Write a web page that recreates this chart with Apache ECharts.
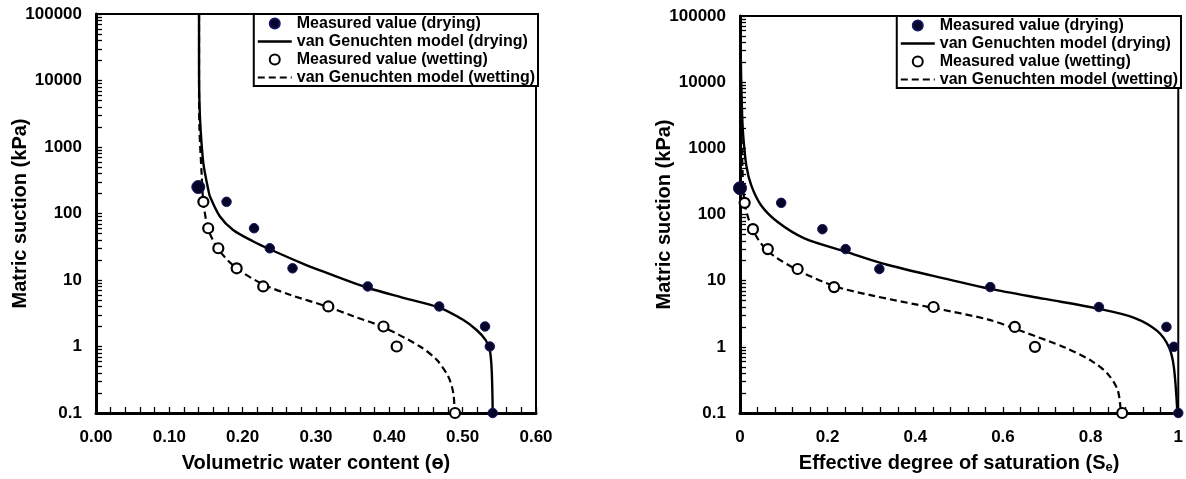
<!DOCTYPE html>
<html>
<head>
<meta charset="utf-8">
<script src="https://cdn.jsdelivr.net/npm/echarts@6/dist/echarts.min.js"></script>
<style>
html,body{margin:0;padding:0;background:#fff;}
#c{width:1186px;height:479px;}
</style>
</head>
<body>
<div id="c"></div>
<script>
// ---- measured data ----
const suctionDry = [250, 150, 60, 30, 15, 8, 4, 2, 1, 0.1];
const thetaDry   = [0.1395, 0.178, 0.2155, 0.237, 0.268, 0.3705, 0.468, 0.5305, 0.537, 0.541];
const seDry      = [0, 0.094, 0.188, 0.241, 0.318, 0.571, 0.819, 0.973, 0.990, 1.0];

const suctionWet = [150, 60, 30, 15, 8, 4, 2, 1, 0.1];
const thetaWet   = [0.1464, 0.153, 0.1668, 0.1918, 0.228, 0.3168, 0.392, 0.41, 0.4896];
const seWet      = [0.0106, 0.0295, 0.0635, 0.1315, 0.2147, 0.4415, 0.627, 0.673, 0.872];

// ---- model curves ----
const thetaDryModel   = [0.1405, 0.1405, 0.141, 0.1427, 0.1464, 0.1532, 0.1555, 0.169, 0.187, 0.2145, 0.237, 0.2827, 0.3055, 0.3705, 0.419, 0.468, 0.501, 0.519, 0.5314, 0.537, 0.5396, 0.541];
const suctionDryModel = [100000, 20000, 5000, 1800, 569, 225, 179, 90, 56.5, 38, 29, 17.5, 14, 7.65, 5.4, 3.84, 2.5, 1.77, 1.25, 0.885, 0.44, 0.1];

const thetaWetModel   = [0.1405, 0.1405, 0.141, 0.144, 0.1464, 0.153, 0.1668, 0.1918, 0.228, 0.2645, 0.3145, 0.351, 0.392, 0.4418, 0.4646, 0.4805, 0.4873, 0.489];
const suctionWetModel = [100000, 10000, 2000, 403, 151, 58.5, 29, 15, 8.6, 6.0, 4.0, 2.85, 1.95, 1.0, 0.63, 0.35, 0.198, 0.1];

const seDryModel      = [0.001, 0.002, 0.004, 0.0068, 0.0144, 0.0257, 0.048, 0.086, 0.147, 0.241, 0.336, 0.48, 0.571, 0.695, 0.8186, 0.8995, 0.952, 0.979, 0.990, 0.998];
const suctionDryModelR= [100000, 20000, 5000, 1740, 550, 275, 138, 77, 43.6, 27.5, 17.4, 10.3, 7.5, 5.3, 3.76, 2.75, 1.74, 0.98, 0.49, 0.1];

const seWetModel      = [0.001, 0.002, 0.005, 0.0106, 0.0295, 0.0635, 0.1315, 0.2147, 0.30, 0.443, 0.565, 0.627, 0.703, 0.741, 0.801, 0.839, 0.862, 0.869];
const suctionWetModelR= [100000, 5000, 690, 150, 58, 28, 14.5, 8.3, 6.0, 3.85, 2.6, 1.88, 1.23, 0.98, 0.62, 0.39, 0.22, 0.1];

// ---- axis ticks ----
const yMin = 0.1, yMax = 100000;
const yMinorTicks = [];
for (let d = -1; d < 5; d++) {
  for (let k = 1; k <= 9; k++) yMinorTicks.push(Number((k * Math.pow(10, d)).toPrecision(6)));
}
yMinorTicks.push(100000);

const names = ['Measured value (drying)', 'van Genuchten model (drying)', 'Measured value (wetting)', 'van Genuchten model (wetting)'];

const zip = (a, b) => a.map((v, i) => [v, b[i]]);
const FONT = 'Liberation Sans, Arial, sans-serif';

function yAxis(gridIndex) {
  return {
    type: 'log', logBase: 10, min: yMin, max: yMax, gridIndex,
    name: 'Matric suction (kPa)', nameLocation: 'middle', nameGap: 66, nameRotate: 90, nameMoveOverlap: false,
    nameTextStyle: {fontFamily: FONT, fontWeight: 'bold', fontSize: 20, color: '#000'},
    axisLine: {show: true, lineStyle: {color: '#000', width: 3}},
    axisTick: {show: true, inside: true, length: 6, customValues: yMinorTicks, lineStyle: {color: '#000', width: 1.3}},
    axisLabel: {margin: 14, fontFamily: FONT, fontWeight: 'bold', fontSize: 17, color: '#000',
      formatter: v => String(Number(Number(v).toPrecision(6)))},
    splitLine: {show: false}
  };
}
function xAxis(gridIndex, max, interval, name, fmt) {
  return {
    type: 'value', min: 0, max, interval, gridIndex,
    name, nameLocation: 'middle', nameGap: 40, nameMoveOverlap: false,
    nameTextStyle: {fontFamily: FONT, fontWeight: 'bold', fontSize: 20, color: '#000',
      rich: {sub: {fontFamily: FONT, fontWeight: 'bold', fontSize: 13, color: '#000', padding: [8, 0, 0, 0]}}},
    axisLine: {show: true, onZero: false, lineStyle: {color: '#000', width: 3}},
    axisTick: {show: true, inside: true, length: 6, lineStyle: {color: '#000', width: 1.3}},
    minorTick: {show: true, splitNumber: 5, length: 6, lineStyle: {color: '#000', width: 1.3}},
    axisLabel: {margin: 16, fontFamily: FONT, fontWeight: 'bold', fontSize: 17, color: '#000', formatter: fmt, showMaxLabel: true, showMinLabel: true},
    splitLine: {show: false}, minorSplitLine: {show: false}
  };
}

function seriesFor(idx, xd, xw, xdm, ydm, xwm, ywm) {
  return [
    {name: names[1], type: 'line', xAxisIndex: idx, yAxisIndex: idx, data: zip(xdm, ydm),
     symbol: 'none', smooth: 0.3, lineStyle: {color: '#000', width: 2.4}, itemStyle: {color: '#000'}, z: 2},
    {name: names[3], type: 'line', xAxisIndex: idx, yAxisIndex: idx, data: zip(xwm, ywm),
     symbol: 'none', smooth: 0.3, lineStyle: {color: '#000', width: 2.2, type: [7, 4]}, itemStyle: {color: '#000'}, z: 2},
    {name: names[0], type: 'scatter', xAxisIndex: idx, yAxisIndex: idx, data: zip(xd, suctionDry), clip: false,
     symbol: 'circle', symbolSize: (v, p) => p.dataIndex === 0 ? 13 : 9.5,
     itemStyle: {color: '#05052a', borderColor: '#161660', borderWidth: 1, opacity: 1}, z: 4},
    {name: names[2], type: 'scatter', xAxisIndex: idx, yAxisIndex: idx, data: zip(xw, suctionWet), clip: false,
     symbol: 'circle', symbolSize: 10,
     itemStyle: {color: '#fff', borderColor: '#000', borderWidth: 2.2, opacity: 1}, z: 4}
  ];
}

const solidIcon = 'path://M0,0H34V2.4H0Z';
const dashIcon = 'path://M0,0H7V2.2H0Z M11,0H18V2.2H11Z M22,0H29V2.2H22Z M33,0H34V2.2H33Z';

function legend(right, top) {
  return {
    right, top, orient: 'vertical', selectedMode: false,
    data: [
      {name: names[0], icon: 'circle'},
      {name: names[1], icon: solidIcon, itemStyle: {color: '#000', borderWidth: 0}},
      {name: names[2], icon: 'circle'},
      {name: names[3], icon: dashIcon, itemStyle: {color: '#000', borderWidth: 0}}
    ],
    itemWidth: 34, itemHeight: 10, itemGap: 1,
    padding: [1, 3, 0, 4],
    borderColor: '#000', borderWidth: 2, backgroundColor: '#fff',
    textStyle: {fontFamily: FONT, fontWeight: 'bold', fontSize: 16, color: '#000', lineHeight: 17}
  };
}

const chart = echarts.init(document.getElementById('c'), null, {renderer: 'canvas'});
chart.setOption({
  animation: false,
  backgroundColor: '#fff',
  grid: [
    {left: 96, top: 14, width: 440, height: 399, show: true, borderColor: '#000', borderWidth: 2, backgroundColor: 'transparent'},
    {left: 740, top: 16, width: 441, height: 400, show: true, borderColor: '#000', borderWidth: 2, backgroundColor: 'transparent'}
  ],
  xAxis: [
    xAxis(0, 0.6, 0.1, 'Volumetric water content (ɵ)', v => v.toFixed(2)),
    xAxis(1, 1, 0.2, 'Effective degree of saturation (S{sub|e})', v => String(Number(v.toFixed(1))))
  ],
  yAxis: [yAxis(0), yAxis(1)],
  legend: [legend(1186 - 538, 14), legend(1186 - 1181, 16)],
  series: [
    ...seriesFor(0, thetaDry, thetaWet, thetaDryModel, suctionDryModel, thetaWetModel, suctionWetModel),
    ...seriesFor(1, seDry, seWet, seDryModel, suctionDryModelR, seWetModel, suctionWetModelR)
  ]
});
</script>
</body>
</html>
